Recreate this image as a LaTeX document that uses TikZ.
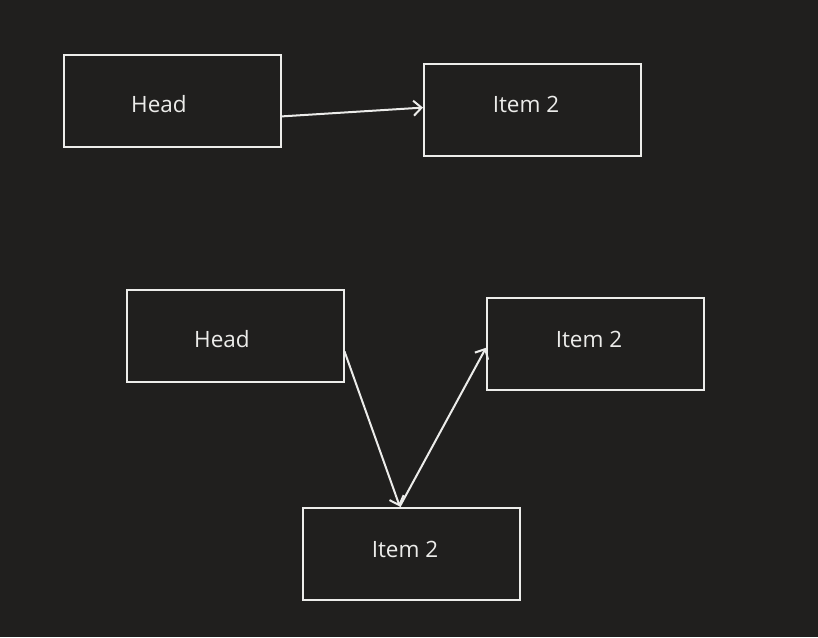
\documentclass[tikz,border=0pt]{standalone}
\usepackage{fontspec}
\setmainfont{Open Sans}
\usetikzlibrary{arrows.meta,positioning,calc}
\definecolor{inkBack}{RGB}{32, 31, 30}
\definecolor{inkLine}{RGB}{236, 236, 234}

\begin{document}
\begin{tikzpicture}[x=1pt, y=-1pt,
        listbox/.style={draw=inkLine, line width=2pt, minimum width=217pt, minimum height=92pt, inner sep=0pt},
        boxtext/.style={text=inkLine, font=\fontsize{22.5pt}{26pt}\selectfont, anchor=base, inner sep=0pt},
        link/.style={draw=inkLine, line width=2pt, -{Straight Barb[length=8pt, width=15pt, line width=2pt]}}]
    % background and frame
    \fill[inkBack] (0,0) rectangle (818,637);
    \useasboundingbox (0,0) rectangle (818,637);

    % first pair
    \node[listbox] (head1) at (172.5,101) {};
    \node[listbox] (item1) at (532.5,109.5) {};
    \node[boxtext] (headtext1) at (159,112) {Head};
    \node[boxtext] (itemtext1) at (526,112) {Item 2};

    % second group
    \node[listbox] (head2) at (235,336) {};
    \node[listbox] (item2) at (595.5,344) {};
    \node[listbox] (item3) at (411.5,553.5) {};
    \node[boxtext] (headtext2) at (222,347) {Head};
    \node[boxtext] (itemtext2) at (589,347) {Item 2};
    \node[boxtext] (itemtext3) at (405,557) {Item 2};

    % connectors
    \draw[link] (head1.-8.4) -- (item1.179);
    \draw[link] (head2.-8.3) -- (item3.104);
    \draw[link] (item3.104) -- (item2.182);
\end{tikzpicture}
\end{document}
